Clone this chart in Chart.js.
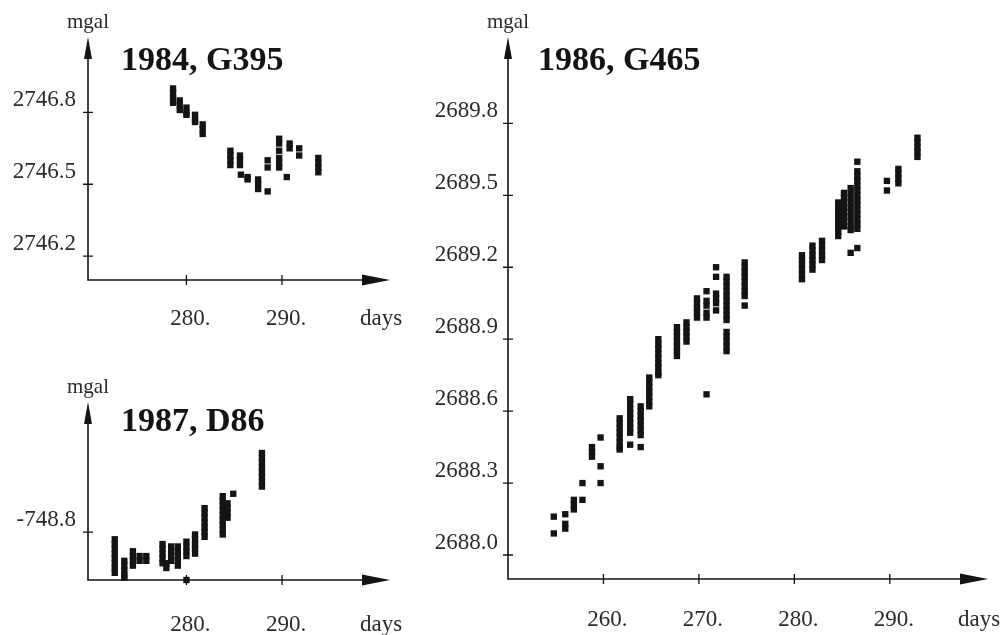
<!DOCTYPE html>
<html>
<head>
<meta charset="utf-8">
<title>Gravity readings</title>
<script src="https://cdn.jsdelivr.net/npm/chart.js@4.4.1/dist/chart.umd.min.js"></script>
<style>
  html, body { margin: 0; padding: 0; background: #ffffff; }
  body { width: 1004px; height: 635px; position: relative; overflow: hidden; }
  .panel { position: absolute; }
</style>
</head>
<body>
<div class="panel" style="left:0;top:0;width:420px;height:345px"><canvas id="g395"></canvas></div>
<div class="panel" style="left:0;top:345px;width:420px;height:290px"><canvas id="d86"></canvas></div>
<div class="panel" style="left:420px;top:0;width:584px;height:635px"><canvas id="g465"></canvas></div>
<script>
// Axis units shared by all three panels
const yUnit = 'mgal';
const xUnit = 'days';

// 1984, gravimeter G395: day of year and the readings taken that day
const g395Title = '1984, G395';
const g395Days = [278.6, 279.3, 280.0, 280.9, 281.7, 284.6, 285.6, 285.7, 286.4, 287.5, 288.5, 289.7, 290.5, 290.8, 291.8, 293.8];
const g395Mgal = [
  [2746.90, 2746.88, 2746.86, 2746.84],
  [2746.85, 2746.83, 2746.81],
  [2746.82, 2746.80, 2746.79],
  [2746.79, 2746.77, 2746.76],
  [2746.75, 2746.73, 2746.71],
  [2746.64, 2746.62, 2746.60, 2746.58],
  [2746.62, 2746.60, 2746.58],
  [2746.54],
  [2746.53, 2746.52],
  [2746.52, 2746.50, 2746.48],
  [2746.60, 2746.57, 2746.47],
  [2746.69, 2746.67, 2746.64, 2746.61, 2746.59, 2746.57],
  [2746.53],
  [2746.67, 2746.65],
  [2746.65, 2746.62],
  [2746.61, 2746.59, 2746.57, 2746.55]
];
const g395YTicks = [2746.2, 2746.5, 2746.8];
const g395XTicks = [280, 290];

// 1987, gravimeter D86
const d86Title = '1987, D86';
const d86Days = [272.5, 273.5, 274.4, 275.1, 275.8, 277.5, 277.9, 278.4, 279.1, 280.0, 280.9, 281.9, 283.8, 284.3, 284.9, 287.9];
const d86Mgal = [
  [-748.83, -748.85, -748.87, -748.89, -748.91, -748.93, -748.95, -748.97],
  [-748.92, -748.94, -748.96, -748.98, -748.99],
  [-748.88, -748.90, -748.92, -748.94],
  [-748.90, -748.92],
  [-748.90, -748.92],
  [-748.85, -748.87, -748.89, -748.91, -748.93],
  [-748.93, -748.95],
  [-748.86, -748.88, -748.90, -748.92],
  [-748.86, -748.88, -748.90, -748.92, -748.94],
  [-748.84, -748.86, -748.88, -748.90, -749.00],
  [-748.81, -748.83, -748.85, -748.87, -748.89],
  [-748.70, -748.72, -748.74, -748.76, -748.78, -748.80, -748.82],
  [-748.65, -748.67, -748.69, -748.71, -748.73, -748.75, -748.77, -748.79, -748.81],
  [-748.68, -748.70, -748.72, -748.74],
  [-748.64],
  [-748.47, -748.49, -748.51, -748.53, -748.55, -748.57, -748.59, -748.61]
];
const d86YTicks = [-748.8];
const d86XTicks = [280, 290];

// 1986, gravimeter G465
const g465Title = '1986, G465';
const g465Days = [254.8, 256.0, 256.9, 257.8, 258.8, 259.7, 261.7, 262.8, 263.9, 264.8, 265.75, 267.7, 268.7, 269.8, 270.8, 271.8, 272.9, 274.8, 280.8, 281.9, 282.9, 284.6, 285.2, 285.9, 286.6, 289.7, 290.9, 292.9];
const g465Mgal = [
  [2688.16, 2688.09],
  [2688.17, 2688.13, 2688.11],
  [2688.23, 2688.21, 2688.19],
  [2688.30, 2688.23],
  [2688.45, 2688.43, 2688.41],
  [2688.49, 2688.37, 2688.30],
  [2688.57, 2688.55, 2688.53, 2688.51, 2688.49, 2688.47, 2688.45, 2688.44],
  [2688.65, 2688.63, 2688.61, 2688.59, 2688.57, 2688.55, 2688.53, 2688.51, 2688.46],
  [2688.62, 2688.60, 2688.58, 2688.56, 2688.54, 2688.52, 2688.50, 2688.45],
  [2688.74, 2688.72, 2688.70, 2688.68, 2688.66, 2688.64, 2688.62],
  [2688.90, 2688.88, 2688.86, 2688.84, 2688.82, 2688.80, 2688.78, 2688.76, 2688.75],
  [2688.95, 2688.93, 2688.91, 2688.89, 2688.87, 2688.85, 2688.83],
  [2688.97, 2688.95, 2688.93, 2688.91, 2688.89],
  [2689.07, 2689.05, 2689.03, 2689.01, 2688.99],
  [2689.10, 2689.06, 2689.04, 2689.01, 2688.99, 2688.67],
  [2689.20, 2689.16, 2689.09, 2689.07, 2689.05, 2689.02],
  [2689.16, 2689.14, 2689.12, 2689.10, 2689.08, 2689.06, 2689.04, 2689.02, 2689.00, 2688.98, 2688.93, 2688.91, 2688.89, 2688.87, 2688.85],
  [2689.22, 2689.20, 2689.18, 2689.16, 2689.14, 2689.12, 2689.10, 2689.08, 2689.04],
  [2689.25, 2689.23, 2689.21, 2689.19, 2689.17, 2689.15],
  [2689.29, 2689.27, 2689.25, 2689.23, 2689.21, 2689.19],
  [2689.31, 2689.29, 2689.27, 2689.25, 2689.23],
  [2689.47, 2689.45, 2689.43, 2689.41, 2689.39, 2689.37, 2689.35, 2689.33],
  [2689.51, 2689.49, 2689.47, 2689.45, 2689.43, 2689.41, 2689.39, 2689.37],
  [2689.53, 2689.51, 2689.49, 2689.47, 2689.45, 2689.43, 2689.41, 2689.39, 2689.37, 2689.355, 2689.26],
  [2689.64, 2689.60, 2689.58, 2689.56, 2689.54, 2689.52, 2689.50, 2689.48, 2689.46, 2689.44, 2689.42, 2689.40, 2689.38, 2689.36, 2689.28],
  [2689.56, 2689.52],
  [2689.61, 2689.59, 2689.57, 2689.55],
  [2689.74, 2689.72, 2689.70, 2689.68, 2689.66]
];
const g465YTicks = [2688.0, 2688.3, 2688.6, 2688.9, 2689.2, 2689.5, 2689.8];
const g465XTicks = [260, 270, 280, 290];

const SERIF = '"Liberation Serif", "Times New Roman", "DejaVu Serif", serif';
const INK = '#141414';
const TEXT = '#2b2b2b';

// Draws the arrowed axes, crossing tick marks, unit labels and the panel title
const axisDecor = {
  id: 'axisDecor',
  afterDatasetsDraw(chart, args, o) {
    const { ctx, chartArea: a } = chart;
    const xs = chart.scales.x, ys = chart.scales.y;
    ctx.save();
    ctx.strokeStyle = INK;
    ctx.fillStyle = INK;
    ctx.lineWidth = 1.6;
    ctx.beginPath();
    ctx.moveTo(a.left, a.top + 12);
    ctx.lineTo(a.left, a.bottom);
    ctx.lineTo(a.right - 12, a.bottom);
    ctx.stroke();

    ctx.beginPath();
    ctx.moveTo(a.left, a.top);
    ctx.lineTo(a.left - 4, a.top + 22);
    ctx.lineTo(a.left + 4, a.top + 22);
    ctx.closePath();
    ctx.fill();

    ctx.beginPath();
    ctx.moveTo(a.right, a.bottom);
    ctx.lineTo(a.right - 28, a.bottom - 5.5);
    ctx.lineTo(a.right - 28, a.bottom + 5.5);
    ctx.closePath();
    ctx.fill();

    ctx.lineWidth = 1.3;
    ctx.beginPath();
    xs.ticks.forEach(t => {
      const p = xs.getPixelForValue(t.value);
      ctx.moveTo(p, a.bottom - 5);
      ctx.lineTo(p, a.bottom + 5);
    });
    ys.ticks.forEach(t => {
      const p = ys.getPixelForValue(t.value);
      ctx.moveTo(a.left - 5, p);
      ctx.lineTo(a.left + 5, p);
    });
    ctx.stroke();

    ctx.fillStyle = TEXT;
    ctx.font = '21px ' + SERIF;
    ctx.textAlign = 'center';
    ctx.textBaseline = 'alphabetic';
    ctx.fillText(yUnit, a.left, a.top - 9);

    ctx.font = '23px ' + SERIF;
    ctx.textAlign = 'left';
    ctx.textBaseline = 'middle';
    ctx.fillText(xUnit, a.right - 30, a.bottom + o.labelDrop);

    ctx.fillStyle = INK;
    ctx.font = 'bold 34px ' + SERIF;
    ctx.textAlign = 'left';
    ctx.textBaseline = 'alphabetic';
    ctx.fillText(o.title, a.left + o.titleDx, a.top + o.titleDy);
    ctx.restore();
  }
};

function panel(id, p) {
  const points = p.days.flatMap((d, i) => p.mgal[i].map(v => ({ x: d, y: v })));
  const tickFont = { family: SERIF, size: 23 };
  return new Chart(document.getElementById(id), {
    type: 'scatter',
    data: {
      datasets: [{
        data: points,
        pointStyle: 'rect',
        pointRadius: 4.5,
        pointHoverRadius: 4.5,
        pointBackgroundColor: INK,
        pointBorderWidth: 0,
        clip: false
      }]
    },
    options: {
      responsive: true,
      maintainAspectRatio: false,
      animation: false,
      devicePixelRatio: 1,
      events: [],
      layout: { padding: { top: p.top, right: p.right, left: 0, bottom: 0 } },
      plugins: {
        legend: { display: false },
        tooltip: { enabled: false },
        axisDecor: { title: p.title, titleDx: p.titleDx, titleDy: p.titleDy, labelDrop: p.xPad + 13.8 }
      },
      scales: {
        x: {
          type: 'linear',
          position: 'bottom',
          min: p.xMin,
          max: p.xMax,
          afterBuildTicks: s => { s.ticks = p.xTicks.map(v => ({ value: v })); },
          afterFit: s => { s.height = p.xAxisHeight; },
          grid: { display: false, drawTicks: false },
          border: { display: false },
          ticks: {
            padding: p.xPad,
            labelOffset: 4,
            color: TEXT,
            font: tickFont,
            maxRotation: 0,
            autoSkip: false,
            callback: v => v + '.'
          }
        },
        y: {
          type: 'linear',
          position: 'left',
          min: p.yMin,
          max: p.yMax,
          afterBuildTicks: s => { s.ticks = p.yTicks.map(v => ({ value: v })); },
          afterFit: s => { s.width = 88; },
          grid: { display: false, drawTicks: false },
          border: { display: false },
          ticks: {
            padding: p.yPad,
            labelOffset: -12,
            color: TEXT,
            font: tickFont,
            autoSkip: false,
            callback: v => v.toFixed(1)
          }
        }
      }
    },
    plugins: [axisDecor]
  });
}

panel('g395', {
  title: g395Title, days: g395Days, mgal: g395Mgal, xTicks: g395XTicks, yTicks: g395YTicks,
  xMin: 269.7, xMax: 301.3, yMin: 2746.1, yMax: 2747.115,
  top: 37, right: 30, xAxisHeight: 65, xPad: 25, yPad: 12, titleDx: 33, titleDy: 33
});

panel('d86', {
  title: d86Title, days: d86Days, mgal: d86Mgal, xTicks: d86XTicks, yTicks: d86YTicks,
  xMin: 269.7, xMax: 301.3, yMin: -749.0, yMax: -748.257,
  top: 57, right: 30, xAxisHeight: 55, xPad: 31, yPad: 12, titleDx: 33, titleDy: 29
});

panel('g465', {
  title: g465Title, days: g465Days, mgal: g465Mgal, xTicks: g465XTicks, yTicks: g465YTicks,
  xMin: 250, xMax: 300.29, yMin: 2687.9, yMax: 2690.16,
  top: 37, right: 16, xAxisHeight: 56, xPad: 27, yPad: 10, titleDx: 30, titleDy: 33
});
</script>
</body>
</html>
